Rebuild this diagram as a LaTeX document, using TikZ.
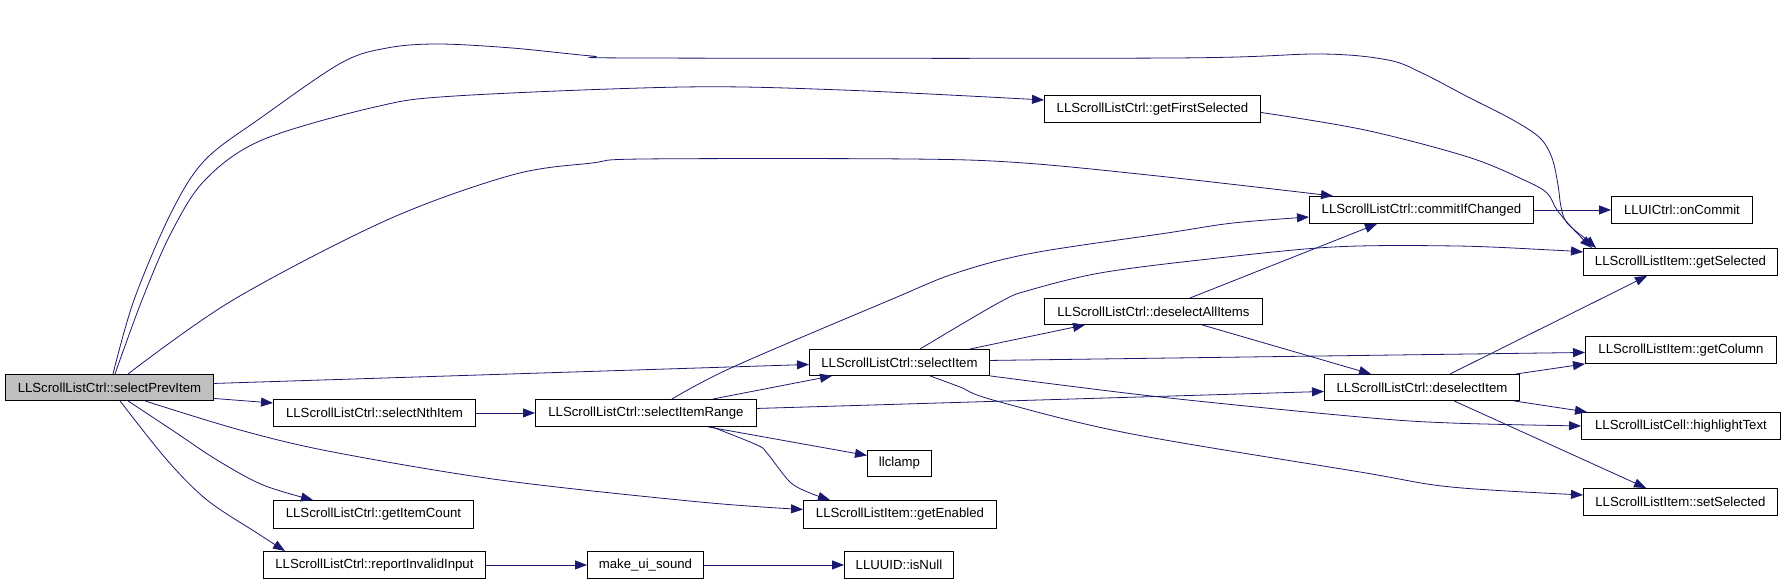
\documentclass[tikz,border=0pt]{standalone}
\usepackage{fontspec}
\setmainfont{Liberation Sans}
\usetikzlibrary{arrows.meta}
\definecolor{edgeblue}{HTML}{191970}
\definecolor{nodegray}{HTML}{BFBFBF}
\tikzset{
  box/.style={draw=black, line width=0.9pt, fill=white, inner sep=0pt, anchor=north west,
    font=\fontsize{13.2}{15}\selectfont},
  edge/.style={draw=edgeblue, line width=0.8pt, -{Triangle[length=12pt,width=9pt]}},
  smoothedge/.style={edge, smooth, tension=0.55},
}
\begin{document}
\begin{tikzpicture}[x=1pt,y=-1pt]
\useasboundingbox[fill=white] (0,0) rectangle (1784,583);
% nodes
\node[box, fill=nodegray, minimum width=208pt, minimum height=26pt] (spi) at (5,374) {LLScrollListCtrl::selectPrevItem};
\node[box, minimum width=216pt, minimum height=27pt] (gfs) at (1044,95) {LLScrollListCtrl::getFirstSelected};
\node[box, minimum width=224pt, minimum height=27pt] (cic) at (1309,196) {LLScrollListCtrl::commitIfChanged};
\node[box, minimum width=141pt, minimum height=27pt] (onc) at (1611,196) {LLUICtrl::onCommit};
\node[box, minimum width=194pt, minimum height=27pt] (gsl) at (1583,248) {LLScrollListItem::getSelected};
\node[box, minimum width=218pt, minimum height=26pt] (dai) at (1044,298) {LLScrollListCtrl::deselectAllItems};
\node[box, minimum width=180pt, minimum height=26pt] (si) at (809,349) {LLScrollListCtrl::selectItem};
\node[box, minimum width=191pt, minimum height=27pt] (gcol) at (1585,336) {LLScrollListItem::getColumn};
\node[box, minimum width=195pt, minimum height=26pt] (dsi) at (1324,374) {LLScrollListCtrl::deselectItem};
\node[box, minimum width=202pt, minimum height=27pt] (snth) at (273,399) {LLScrollListCtrl::selectNthItem};
\node[box, minimum width=221pt, minimum height=27pt] (sir) at (535,399) {LLScrollListCtrl::selectItemRange};
\node[box, minimum width=199pt, minimum height=27pt] (hlt) at (1581,412) {LLScrollListCell::highlightText};
\node[box, minimum width=64pt, minimum height=26pt] (llc) at (867,450) {llclamp};
\node[box, minimum width=200pt, minimum height=28pt] (gic) at (273,500) {LLScrollListCtrl::getItemCount};
\node[box, minimum width=193pt, minimum height=28pt] (gen) at (803,500) {LLScrollListItem::getEnabled};
\node[box, minimum width=194pt, minimum height=27pt] (ssel) at (1583,488) {LLScrollListItem::setSelected};
\node[box, minimum width=222pt, minimum height=27pt] (rii) at (263,551) {LLScrollListCtrl::reportInvalidInput};
\node[box, minimum width=116pt, minimum height=27pt] (mus) at (587,551) {make\_ui\_sound};
\node[box, minimum width=109pt, minimum height=27pt] (isn) at (844,551) {LLUUID::isNull};
% edges from selectPrevItem
\draw[smoothedge] plot coordinates {([xshift=108pt]spi.north west) (134,300) (171,213) (205,160) (262,117) (341,63) (387,48) (438,44) (512,48) (592,56) (640,58) (1172,58) (1320,54) (1388,60) (1422,73) (1468,97) (1513,120) (1540,138) (1552,158) (1558,185) (1561,207) (1567,223) (1587,240) ([xshift=13pt]gsl.north west)};
\draw[smoothedge] plot coordinates {([xshift=110pt]spi.north west) (142,300) (171,233) (205,180) (262,140) (375,107) (455,96) (683,87) (842,90) ([yshift=-5pt]gfs.north west)};
\draw[smoothedge] plot coordinates {([xshift=123pt]spi.north west) (233,300) (387,220) (512,175) (592,163) (643,159) (910,159) (1024,163) (1167,177) ([xshift=24pt]cic.north west)};
\draw[edge] ([yshift=4pt]spi.east) -- ([yshift=-2pt]si.west);
\draw[edge] ([yshift=-11pt]spi.east) -- ([yshift=-4pt]snth.north west);
\draw[smoothedge] plot coordinates {([xshift=140pt]spi.south west) (240,430) (333,452) (500,480) (700,502) ([yshift=5pt]gen.west)};
\draw[smoothedge] plot coordinates {([xshift=123pt]spi.south west) (175,432) (217,460) (263,485) ([xshift=40pt]gic.north west)};
\draw[smoothedge] plot coordinates {([xshift=115pt]spi.south west) (167,460) (207,500) (257,533) ([xshift=22pt]rii.north west)};
% selectNthItem
\draw[edge] (snth.east) -- (sir.west);
% selectItemRange
\draw[smoothedge] plot coordinates {([xshift=137pt]sir.north west) (733,367) (890,300) (956,273) (1033,253) (1167,233) (1233,223) ([yshift=-21pt]cic.north west)};
\draw[edge] ([xshift=178pt]sir.north west) -- ([xshift=23pt]si.south west);
\draw[edge] ([yshift=4.5pt]sir.east) -- ([yshift=-4pt]dsi.west);
\draw[edge] ([xshift=173pt]sir.south west) -- ([yshift=8pt]llc.west);
\draw[smoothedge] plot coordinates {([xshift=177pt]sir.south west) (757,445) (767,453) (790,482) (810,493) ([xshift=27pt]gen.north west)};
% selectItem
\draw[smoothedge] plot coordinates {([xshift=111pt]si.north west) (1000,302) (1030,290) (1100,273) (1200,260) (1333,247) (1457,246) (1551,250) ([yshift=10pt]gsl.west)};
\draw[edge] ([xshift=161pt]si.north west) -- ([xshift=41pt]dai.south west);
\draw[edge] ([yshift=2pt]si.east) -- ([yshift=-2.5pt]gcol.west);
\draw[smoothedge] plot coordinates {(si.south east) (1160,397) (1360,417) (1451,423) (hlt.west)};
\draw[smoothedge] plot coordinates {([xshift=121pt]si.south west) (960,387) (993,400) (1127,433) (1360,472) (1451,487) ([yshift=7pt]ssel.west)};
% getFirstSelected
\draw[smoothedge] plot coordinates {([yshift=-3.5pt]gfs.east) (1365,130) (1468,157) (1524,180) (1547,193) (1557,210) (1574,230) ([xshift=9pt]gsl.north west)};
% commitIfChanged
\draw[edge] (cic.east) -- (onc.west);
% deselectAllItems
\draw[edge] ([xshift=146pt]dai.north west) -- ([xshift=68pt]cic.south west);
\draw[edge] ([xshift=158pt]dai.south west) -- ([xshift=47pt]dsi.north west);
% deselectItem
\draw[edge] ([xshift=126pt]dsi.north west) -- ([xshift=64pt]gsl.south west);
\draw[edge] ([xshift=192pt]dsi.north west) -- (gcol.south west);
\draw[edge] ([xshift=190pt]dsi.south west) -- ([xshift=6pt]hlt.north west);
\draw[edge] ([xshift=130pt]dsi.south west) -- ([xshift=63pt]ssel.north west);
% reportInvalidInput chain
\draw[edge] (rii.east) -- (mus.west);
\draw[edge] (mus.east) -- (isn.west);
\end{tikzpicture}
\end{document}
